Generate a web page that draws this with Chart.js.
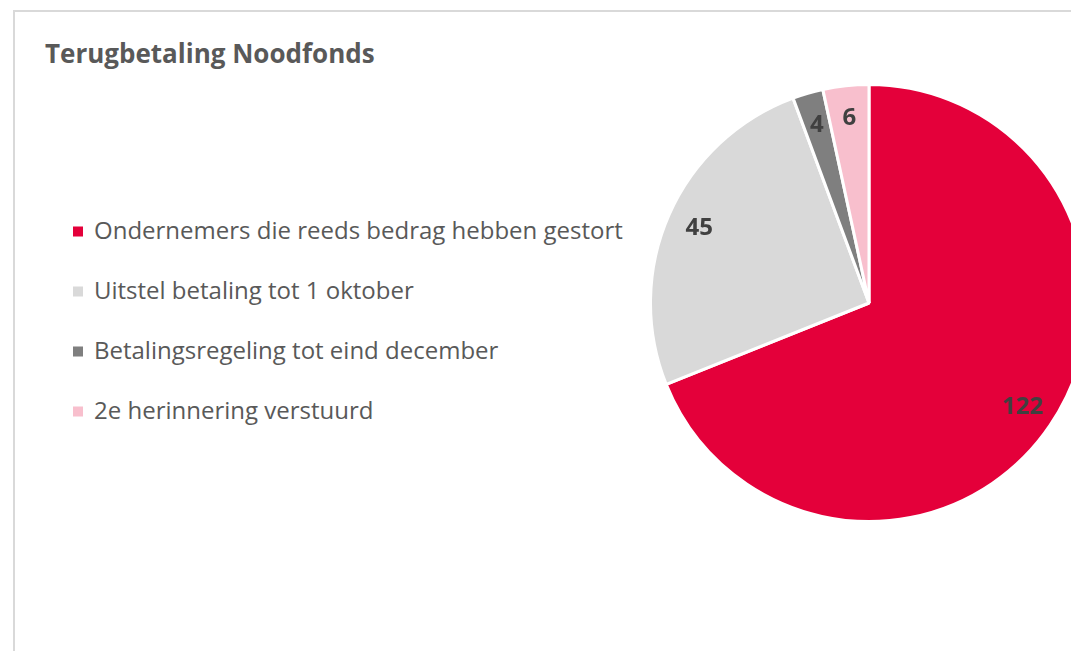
<!DOCTYPE html>
<html>
<head>
<meta charset="utf-8">
<script src="https://cdn.jsdelivr.net/npm/chart.js@4/dist/chart.umd.min.js"></script>
<style>
  html, body { margin: 0; padding: 0; background: #fff; overflow: hidden; width: 1071px; height: 651px; }
  #frame {
    position: absolute; left: 13px; top: 10px; width: 1200px; height: 800px;
    border-left: 2px solid #d9d9d9; border-top: 2px solid #d9d9d9;
  }
  #title {
    position: absolute; left: 45px; top: 53px; transform: translateY(-50%);
    font: bold 26px "Open Sans", sans-serif; color: #595959; white-space: nowrap;
  }
  #legend { position: absolute; left: 73px; top: 0; }
  .item {
    position: absolute; left: 0; white-space: nowrap;
    font: 24px "Open Sans", sans-serif; color: #595959;
    transform: translateY(-50%);
  }
  .item span.box {
    display: inline-block; width: 10px; height: 10px; margin-right: 11px; vertical-align: middle;
    position: relative; top: -1px;
  }
  #pieBox { position: absolute; left: 649px; top: 83px; width: 440px; height: 440px; }
</style>
</head>
<body>
<div id="frame"></div>
<div id="title">Terugbetaling Noodfonds</div>
<div id="legend"></div>
<div id="pieBox"><canvas id="pie"></canvas></div>
<script>
const labels = [
    'Ondernemers die reeds bedrag hebben gestort',
    'Uitstel betaling tot 1 oktober',
    'Betalingsregeling tot eind december',
    '2e herinnering verstuurd'
];
const values = [122, 45, 4, 6];
const colors = ['#e4003a', '#d9d9d9', '#7f7f7f', '#f8bfcd'];

// legend in html
const legend = document.getElementById('legend');
labels.forEach((l, i) => {
    const div = document.createElement('div');
    div.className = 'item';
    div.style.top = (229 + i * 60) + 'px';
    div.innerHTML = `<span class="box" style="background:${colors[i]}"></span>${l}`;
    legend.appendChild(div);
});

// value labels inside the slices
const sliceLabels = {
    id: 'sliceLabels',
    afterDatasetsDraw(chart) {
        const ctx = chart.ctx;
        const meta = chart.getDatasetMeta(0);
        ctx.save();
        ctx.font = 'bold 24px "Open Sans", sans-serif';
        ctx.fillStyle = '#404040';
        ctx.textAlign = 'center';
        ctx.textBaseline = 'middle';
        meta.data.forEach((arc, i) => {
            const p = arc.getProps(['x', 'y', 'startAngle', 'endAngle', 'outerRadius']);
            const mid = (p.startAngle + p.endAngle) / 2;
            const r = p.outerRadius * 0.85;
            ctx.fillText(values[i], p.x + Math.cos(mid) * r, p.y + Math.sin(mid) * r);
        });
        ctx.restore();
    }
};

new Chart(document.getElementById('pie').getContext('2d'), {
    type: 'pie',
    data: {
        labels: labels,
        datasets: [{
            data: values,
            backgroundColor: colors,
            borderColor: '#ffffff',
            borderWidth: 3,
        }],
    },
    options: {
        responsive: true,
        maintainAspectRatio: false,
        animation: false,
        layout: { padding: 0 },
        plugins: {
            legend: { display: false },
            tooltip: { enabled: false },
        },
    },
    plugins: [sliceLabels],
});
</script>
</body>
</html>
